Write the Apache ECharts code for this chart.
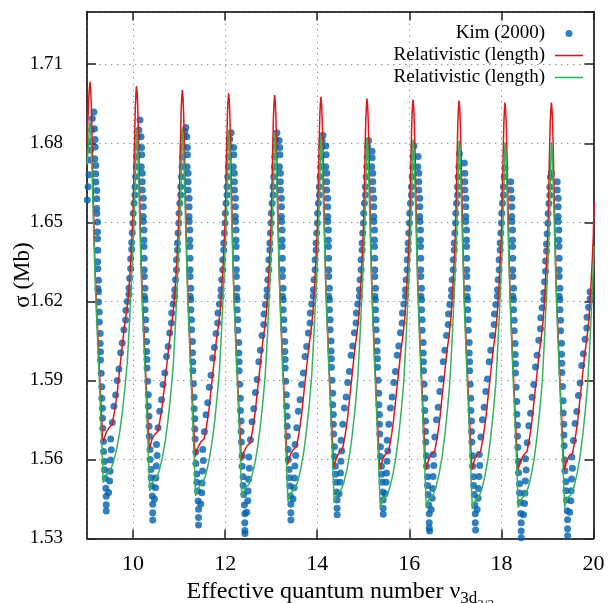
<!DOCTYPE html>
<html><head><meta charset="utf-8">
<script src="https://cdn.jsdelivr.net/npm/echarts@6/dist/echarts.min.js"></script>
<style>html,body{margin:0;padding:0;background:#fff}#c{width:611px;height:603px}</style>
</head><body><div id="c"></div>
<script>
const xMin = 9, xMax = 20;
const yMin = 1.53, yMax = 1.73, yStep = 0.03;
const seriesNames = ['Kim (2000)', 'Relativistic (length)', 'Relativistic (length)\u200b'];

const kim = [
[9.007,1.6585],[9.022,1.6635],[9.043,1.668],[9.065,1.6736],[9.08,1.6774],[9.065,1.6806],[9.10,1.685],[9.115,1.6894],[9.150,1.6919],
[9.163,1.6855],[9.175,1.6814],[9.178,1.6786],[9.169,1.6741],[9.191,1.6716],[9.191,1.6684],[9.192,1.6653],[9.213,1.6621],[9.213,1.6589],[9.212,1.6552],[9.215,1.6533],[9.228,1.6501],[9.228,1.6463],[9.229,1.6438],[9.234,1.6394],[9.234,1.6350],[9.235,1.6324],[9.250,1.6280],[9.237,1.6249],[9.250,1.6236],[9.251,1.6198],[9.265,1.6160],[9.266,1.6122],[9.286,1.6078],[9.287,1.6040],[9.293,1.6009],[9.294,1.5977],[9.308,1.5927],[9.321,1.5876],[9.322,1.5832],[9.336,1.5794],[9.337,1.5756],[9.343,1.5718],[9.358,1.5668],[9.359,1.5630],[9.380,1.5592],[9.381,1.5561],[9.395,1.5529],[9.408,1.5491],[9.417,1.5460],[9.417,1.5428],[9.418,1.5404],
[9.470,1.5475],[9.492,1.5518],[9.500,1.5555],[9.510,1.5598],[9.527,1.5637],[9.514,1.5678],[9.550,1.5740],[9.585,1.5802],[9.622,1.5845],[9.657,1.5900],[9.694,1.5943],[9.731,1.6005],[9.766,1.6042],[9.802,1.6092],[9.839,1.6129],[9.845,1.6166],[9.875,1.6199],[9.911,1.6227],[9.911,1.6251],[9.926,1.6288],[9.948,1.6325],[9.948,1.6362],[9.970,1.6398],[9.970,1.6423],[9.983,1.6460],[9.998,1.6497],[10.004,1.6534],[10.020,1.6572],[10.041,1.6604],[10.041,1.6635],[10.056,1.6673],[10.070,1.6711],[10.078,1.6749],[10.091,1.6787],[10.100,1.6825],[10.128,1.6850],
[10.151,1.6888],[10.173,1.6825],[10.185,1.6784],[10.188,1.6756],[10.179,1.6711],[10.201,1.6686],[10.201,1.6654],[10.202,1.6623],[10.223,1.6591],[10.223,1.6559],[10.222,1.6522],[10.225,1.6503],[10.238,1.6471],[10.238,1.6433],[10.239,1.6408],[10.244,1.6364],[10.244,1.6320],[10.245,1.6294],[10.260,1.6250],[10.247,1.6219],[10.260,1.6206],[10.261,1.6168],[10.275,1.6130],[10.276,1.6092],[10.296,1.6048],[10.297,1.6010],[10.303,1.5979],[10.304,1.5947],[10.318,1.5897],[10.331,1.5846],[10.332,1.5802],[10.346,1.5764],[10.347,1.5726],[10.353,1.5688],[10.368,1.5638],[10.369,1.5600],[10.390,1.5562],[10.391,1.5531],[10.405,1.5499],[10.418,1.5461],[10.427,1.5430],[10.427,1.5398],[10.428,1.5370],
[10.465,1.5450],[10.487,1.5493],[10.495,1.5530],[10.505,1.5575],[10.522,1.5615],[10.509,1.5657],[10.545,1.5720],[10.580,1.5783],[10.617,1.5827],[10.652,1.5884],[10.689,1.5928],[10.726,1.5991],[10.761,1.6029],[10.797,1.6080],[10.834,1.6118],[10.840,1.6156],[10.870,1.6190],[10.906,1.6219],[10.906,1.6244],[10.921,1.6282],[10.943,1.6320],[10.943,1.6358],[10.965,1.6395],[10.965,1.6421],[10.978,1.6459],[10.993,1.6497],[10.999,1.6534],[11.015,1.6572],[11.036,1.6604],[11.036,1.6635],[11.051,1.6673],[11.065,1.6711],[11.073,1.6749],[11.086,1.6787],[11.095,1.6825],[11.123,1.6845],
[11.146,1.6860],[11.168,1.6825],[11.180,1.6784],[11.183,1.6756],[11.174,1.6711],[11.196,1.6686],[11.196,1.6654],[11.197,1.6623],[11.218,1.6591],[11.218,1.6559],[11.217,1.6522],[11.220,1.6503],[11.233,1.6471],[11.233,1.6433],[11.234,1.6408],[11.239,1.6364],[11.239,1.6320],[11.240,1.6294],[11.255,1.6250],[11.242,1.6219],[11.255,1.6206],[11.256,1.6168],[11.270,1.6130],[11.271,1.6092],[11.291,1.6048],[11.292,1.6005],[11.298,1.5970],[11.299,1.5937],[11.313,1.5887],[11.326,1.5836],[11.327,1.5792],[11.341,1.5754],[11.342,1.5716],[11.348,1.5678],[11.363,1.5628],[11.364,1.5585],[11.385,1.5545],[11.386,1.5513],[11.400,1.5480],[11.413,1.5442],[11.422,1.5411],[11.422,1.5380],[11.423,1.5351],
[11.470,1.5431],[11.492,1.5474],[11.500,1.5511],[11.510,1.5556],[11.527,1.5596],[11.514,1.5638],[11.550,1.5705],[11.585,1.5770],[11.622,1.5815],[11.657,1.5874],[11.694,1.5920],[11.731,1.5985],[11.766,1.6025],[11.802,1.6078],[11.839,1.6118],[11.845,1.6156],[11.875,1.6190],[11.911,1.6219],[11.911,1.6244],[11.926,1.6282],[11.948,1.6320],[11.948,1.6358],[11.970,1.6395],[11.970,1.6421],[11.983,1.6459],[11.998,1.6497],[12.004,1.6534],[12.020,1.6572],[12.041,1.6604],[12.041,1.6635],[12.056,1.6673],[12.070,1.6711],[12.078,1.6749],[12.091,1.6787],[12.100,1.6815],
[12.130,1.6840],[12.185,1.6784],[12.188,1.6756],[12.179,1.6711],[12.201,1.6686],[12.201,1.6654],[12.202,1.6623],[12.223,1.6591],[12.223,1.6559],[12.222,1.6522],[12.225,1.6503],[12.238,1.6471],[12.238,1.6433],[12.239,1.6408],[12.244,1.6364],[12.244,1.6320],[12.245,1.6294],[12.260,1.6250],[12.247,1.6219],[12.260,1.6206],[12.261,1.6168],[12.275,1.6130],[12.276,1.6090],[12.296,1.6044],[12.297,1.6004],[12.303,1.5971],[12.304,1.5937],[12.318,1.5885],[12.331,1.5832],[12.332,1.5786],[12.346,1.5746],[12.347,1.5706],[12.353,1.5666],[12.368,1.5614],[12.369,1.5574],[12.390,1.5534],[12.391,1.5501],[12.405,1.5467],[12.418,1.5427],[12.427,1.5394],[12.427,1.5360],[12.428,1.5330],[12.431,1.5319],
[12.470,1.5400],[12.492,1.5443],[12.500,1.5480],[12.510,1.5525],[12.527,1.5567],[12.514,1.5609],[12.550,1.5675],[12.585,1.5743],[12.622,1.5792],[12.657,1.5854],[12.694,1.5903],[12.731,1.5971],[12.766,1.6014],[12.802,1.6070],[12.839,1.6112],[12.845,1.6152],[12.875,1.6188],[12.911,1.6219],[12.911,1.6244],[12.926,1.6282],[12.948,1.6320],[12.948,1.6358],[12.970,1.6395],[12.970,1.6421],[12.983,1.6459],[12.998,1.6497],[13.004,1.6534],[13.020,1.6572],[13.041,1.6604],[13.041,1.6635],[13.056,1.6673],[13.070,1.6711],[13.078,1.6749],[13.091,1.6787],[13.100,1.6815],
[13.125,1.6840],[13.173,1.6810],[13.185,1.6784],[13.188,1.6756],[13.179,1.6711],[13.201,1.6686],[13.201,1.6654],[13.202,1.6623],[13.223,1.6591],[13.223,1.6559],[13.222,1.6522],[13.225,1.6503],[13.238,1.6471],[13.238,1.6433],[13.239,1.6408],[13.244,1.6364],[13.244,1.6320],[13.245,1.6294],[13.260,1.6250],[13.247,1.6219],[13.260,1.6206],[13.261,1.6168],[13.275,1.6130],[13.276,1.6092],[13.296,1.6048],[13.297,1.6010],[13.303,1.5979],[13.304,1.5947],[13.318,1.5897],[13.331,1.5846],[13.332,1.5802],[13.346,1.5764],[13.347,1.5726],[13.353,1.5688],[13.368,1.5638],[13.369,1.5600],[13.390,1.5562],[13.391,1.5531],[13.405,1.5499],[13.418,1.5461],[13.427,1.5430],[13.427,1.5398],[13.428,1.5370],
[13.475,1.5450],[13.497,1.5493],[13.505,1.5530],[13.515,1.5575],[13.532,1.5615],[13.519,1.5657],[13.555,1.5720],[13.590,1.5783],[13.627,1.5827],[13.662,1.5884],[13.699,1.5928],[13.736,1.5991],[13.771,1.6029],[13.807,1.6080],[13.844,1.6118],[13.850,1.6156],[13.880,1.6190],[13.916,1.6219],[13.916,1.6244],[13.931,1.6282],[13.953,1.6320],[13.953,1.6358],[13.975,1.6395],[13.975,1.6421],[13.988,1.6459],[14.003,1.6497],[14.009,1.6534],[14.025,1.6572],[14.046,1.6604],[14.046,1.6635],[14.061,1.6673],[14.075,1.6711],[14.083,1.6749],[14.096,1.6787],[14.105,1.6810],
[14.125,1.6830],[14.185,1.6790],[14.193,1.6756],[14.184,1.6711],[14.206,1.6686],[14.206,1.6654],[14.207,1.6623],[14.228,1.6591],[14.228,1.6559],[14.227,1.6522],[14.230,1.6503],[14.243,1.6471],[14.243,1.6433],[14.244,1.6408],[14.249,1.6364],[14.249,1.6320],[14.250,1.6294],[14.265,1.6250],[14.252,1.6219],[14.265,1.6206],[14.266,1.6168],[14.280,1.6130],[14.281,1.6092],[14.301,1.6050],[14.302,1.6012],[14.308,1.5982],[14.309,1.5950],[14.323,1.5901],[14.336,1.5851],[14.337,1.5808],[14.351,1.5771],[14.352,1.5734],[14.358,1.5697],[14.373,1.5648],[14.374,1.5611],[14.395,1.5574],[14.396,1.5544],[14.410,1.5513],[14.423,1.5476],[14.432,1.5446],[14.432,1.5415],[14.433,1.5390],
[14.475,1.5470],[14.497,1.5513],[14.505,1.5549],[14.515,1.5593],[14.532,1.5632],[14.519,1.5673],[14.555,1.5734],[14.590,1.5795],[14.627,1.5837],[14.662,1.5892],[14.699,1.5934],[14.736,1.5995],[14.771,1.6031],[14.807,1.6081],[14.844,1.6118],[14.850,1.6156],[14.880,1.6190],[14.916,1.6219],[14.916,1.6244],[14.931,1.6282],[14.953,1.6320],[14.953,1.6358],[14.975,1.6395],[14.975,1.6421],[14.988,1.6459],[15.003,1.6497],[15.009,1.6534],[15.025,1.6572],[15.046,1.6604],[15.046,1.6635],[15.061,1.6673],[15.075,1.6711],[15.083,1.6749],[15.096,1.6787],
[15.115,1.6810],[15.190,1.6770],[15.193,1.6745],[15.184,1.6711],[15.206,1.6686],[15.206,1.6654],[15.207,1.6623],[15.228,1.6591],[15.228,1.6559],[15.227,1.6522],[15.230,1.6503],[15.243,1.6471],[15.243,1.6433],[15.244,1.6408],[15.249,1.6364],[15.249,1.6320],[15.250,1.6294],[15.265,1.6250],[15.252,1.6219],[15.265,1.6206],[15.266,1.6168],[15.280,1.6130],[15.281,1.6092],[15.301,1.6050],[15.302,1.6012],[15.308,1.5982],[15.309,1.5950],[15.323,1.5901],[15.336,1.5851],[15.337,1.5808],[15.351,1.5771],[15.352,1.5734],[15.358,1.5697],[15.373,1.5648],[15.374,1.5611],[15.395,1.5574],[15.396,1.5544],[15.410,1.5513],[15.423,1.5476],[15.432,1.5446],[15.432,1.5415],[15.433,1.5392],
[15.475,1.5470],[15.497,1.5513],[15.505,1.5549],[15.515,1.5593],[15.532,1.5632],[15.519,1.5673],[15.555,1.5734],[15.590,1.5795],[15.627,1.5837],[15.662,1.5892],[15.699,1.5934],[15.736,1.5995],[15.771,1.6031],[15.807,1.6081],[15.844,1.6118],[15.850,1.6156],[15.880,1.6190],[15.916,1.6219],[15.916,1.6244],[15.931,1.6282],[15.953,1.6320],[15.953,1.6358],[15.975,1.6395],[15.975,1.6421],[15.988,1.6459],[16.003,1.6497],[16.009,1.6534],[16.025,1.6572],[16.046,1.6604],[16.046,1.6635],[16.061,1.6673],[16.075,1.6711],[16.083,1.6749],
[16.100,1.6790],[16.190,1.6750],[16.184,1.6711],[16.206,1.6686],[16.206,1.6654],[16.207,1.6623],[16.228,1.6591],[16.228,1.6559],[16.227,1.6522],[16.230,1.6503],[16.243,1.6471],[16.243,1.6433],[16.244,1.6408],[16.249,1.6364],[16.249,1.6320],[16.250,1.6294],[16.265,1.6250],[16.252,1.6219],[16.265,1.6206],[16.266,1.6168],[16.280,1.6130],[16.281,1.6090],[16.301,1.6044],[16.302,1.6004],[16.308,1.5971],[16.309,1.5937],[16.323,1.5885],[16.336,1.5832],[16.337,1.5786],[16.351,1.5746],[16.352,1.5706],[16.358,1.5666],[16.373,1.5614],[16.374,1.5574],[16.395,1.5534],[16.396,1.5501],[16.410,1.5467],[16.423,1.5427],[16.432,1.5394],[16.432,1.5360],[16.433,1.5340],[16.440,1.5328],
[16.475,1.5410],[16.497,1.5453],[16.505,1.5490],[16.515,1.5535],[16.532,1.5577],[16.519,1.5619],[16.555,1.5685],[16.590,1.5751],[16.627,1.5798],[16.662,1.5858],[16.699,1.5905],[16.736,1.5971],[16.771,1.6014],[16.807,1.6070],[16.844,1.6112],[16.850,1.6152],[16.880,1.6188],[16.916,1.6219],[16.916,1.6244],[16.931,1.6282],[16.953,1.6320],[16.953,1.6358],[16.975,1.6395],[16.975,1.6421],[16.988,1.6459],[17.003,1.6497],[17.009,1.6534],[17.025,1.6572],[17.046,1.6604],[17.046,1.6635],[17.061,1.6673],[17.075,1.6711],
[17.090,1.6760],[17.195,1.6725],[17.206,1.6686],[17.206,1.6654],[17.207,1.6623],[17.228,1.6591],[17.228,1.6559],[17.227,1.6522],[17.230,1.6503],[17.243,1.6471],[17.243,1.6433],[17.244,1.6408],[17.249,1.6364],[17.249,1.6320],[17.250,1.6294],[17.265,1.6250],[17.252,1.6219],[17.265,1.6206],[17.266,1.6168],[17.280,1.6130],[17.281,1.6090],[17.301,1.6044],[17.302,1.6004],[17.308,1.5971],[17.309,1.5937],[17.323,1.5885],[17.336,1.5832],[17.337,1.5786],[17.351,1.5746],[17.352,1.5706],[17.358,1.5666],[17.373,1.5614],[17.374,1.5574],[17.395,1.5534],[17.396,1.5501],[17.410,1.5467],[17.423,1.5427],[17.432,1.5394],[17.432,1.5360],[17.440,1.5332],
[17.473,1.5410],[17.495,1.5453],[17.503,1.5490],[17.513,1.5535],[17.530,1.5577],[17.517,1.5619],[17.553,1.5685],[17.588,1.5751],[17.625,1.5798],[17.660,1.5858],[17.697,1.5905],[17.734,1.5971],[17.769,1.6014],[17.805,1.6070],[17.842,1.6112],[17.848,1.6152],[17.878,1.6188],[17.914,1.6219],[17.914,1.6244],[17.929,1.6282],[17.951,1.6320],[17.951,1.6358],[17.973,1.6395],[17.973,1.6421],[17.986,1.6459],[18.001,1.6497],[18.007,1.6534],[18.023,1.6572],[18.044,1.6604],[18.044,1.6635],[18.059,1.6673],[18.078,1.6706],
[18.204,1.6654],[18.205,1.6623],[18.226,1.6591],[18.226,1.6559],[18.225,1.6522],[18.228,1.6503],[18.241,1.6471],[18.241,1.6433],[18.242,1.6408],[18.247,1.6364],[18.247,1.6320],[18.248,1.6294],[18.263,1.6250],[18.250,1.6219],[18.263,1.6206],[18.264,1.6168],[18.278,1.6128],[18.279,1.6088],[18.299,1.6040],[18.300,1.5998],[18.306,1.5963],[18.307,1.5928],[18.321,1.5874],[18.334,1.5820],[18.335,1.5772],[18.349,1.5730],[18.350,1.5688],[18.356,1.5646],[18.371,1.5592],[18.372,1.5550],[18.393,1.5508],[18.394,1.5473],[18.408,1.5437],[18.421,1.5395],[18.430,1.5360],[18.430,1.5328],[18.431,1.5303],
[18.480,1.5390],[18.502,1.5433],[18.510,1.5472],[18.520,1.5518],[18.537,1.5560],[18.524,1.5603],[18.560,1.5663],[18.595,1.5728],[18.632,1.5775],[18.667,1.5836],[18.704,1.5884],[18.741,1.5951],[18.776,1.5995],[18.812,1.6052],[18.849,1.6096],[18.855,1.6138],[18.885,1.6176],[18.921,1.6207],[18.921,1.6234],[18.936,1.6274],[18.958,1.6314],[18.958,1.6353],[18.980,1.6391],[18.980,1.6418],[18.993,1.6457],[19.008,1.6496],[19.014,1.6533],[19.030,1.6571],[19.051,1.6603],[19.051,1.6634],[19.066,1.6672],[19.085,1.6687],
[19.211,1.6654],[19.212,1.6623],[19.233,1.6591],[19.233,1.6559],[19.232,1.6522],[19.235,1.6503],[19.248,1.6471],[19.248,1.6433],[19.249,1.6408],[19.254,1.6364],[19.254,1.6320],[19.255,1.6294],[19.270,1.6250],[19.257,1.6219],[19.270,1.6206],[19.271,1.6168],[19.285,1.6128],[19.286,1.6088],[19.306,1.6041],[19.307,1.5999],[19.313,1.5965],[19.314,1.5930],[19.328,1.5877],[19.341,1.5823],[19.342,1.5776],[19.356,1.5734],[19.357,1.5693],[19.363,1.5652],[19.378,1.5598],[19.379,1.5557],[19.400,1.5515],[19.401,1.5481],[19.415,1.5446],[19.428,1.5405],[19.437,1.5371],[19.437,1.5337],[19.438,1.5310],
[19.485,1.5400],[19.507,1.5443],[19.515,1.5481],[19.525,1.5526],[19.542,1.5567],[19.529,1.5609],[19.565,1.5672],[19.600,1.5736],[19.637,1.5782],[19.672,1.5843],[19.709,1.5890],[19.746,1.5957],[19.781,1.6001],[19.817,1.6056],[19.854,1.6099],[19.860,1.6140],[19.890,1.6178],[19.926,1.6210],[19.926,1.6236]
];

const relRed = [
[9.000,1.6800],[9.023,1.6900],[9.040,1.6975],[9.053,1.7012],
[9.065,1.7033],[9.080,1.7006],[9.095,1.6936],[9.110,1.6826],[9.125,1.6696],[9.145,1.6526],[9.170,1.6350],[9.195,1.6230],[9.235,1.6075],[9.275,1.5915],[9.310,1.5785],[9.343,1.5663],
[9.415,1.5701],[9.475,1.5720],[9.545,1.5732],[9.605,1.5789],[9.655,1.5852],[9.700,1.5927],[9.755,1.6013],[9.810,1.6100],[9.860,1.6160],[9.900,1.6220],[9.945,1.6340],[9.975,1.6435],[9.995,1.6510],[10.015,1.6640],[10.033,1.6810],[10.050,1.6940],[10.063,1.6990],
[10.075,1.7017],[10.090,1.6990],[10.105,1.6920],[10.120,1.6810],[10.135,1.6680],[10.155,1.6510],[10.180,1.6330],[10.205,1.6210],[10.245,1.6050],[10.285,1.5890],[10.320,1.5760],[10.353,1.5638],
[10.410,1.5676],[10.470,1.5695],[10.540,1.5707],[10.600,1.5764],[10.650,1.5827],[10.695,1.5900],[10.750,1.5985],[10.805,1.6072],[10.855,1.6135],[10.895,1.6197],[10.940,1.6318],[10.970,1.6417],[10.990,1.6495],[11.010,1.6625],[11.028,1.6795],[11.045,1.6925],[11.058,1.6975],
[11.070,1.7002],[11.085,1.6975],[11.100,1.6905],[11.115,1.6795],[11.130,1.6665],[11.150,1.6495],[11.175,1.6310],[11.200,1.6190],[11.240,1.6022],[11.280,1.5862],[11.315,1.5732],[11.348,1.5610],
[11.415,1.5648],[11.475,1.5667],[11.545,1.5679],[11.605,1.5736],[11.655,1.5799],[11.700,1.5875],[11.755,1.5963],[11.810,1.6052],[11.860,1.6115],[11.900,1.6178],[11.945,1.6302],[11.975,1.6402],[11.995,1.6482],[12.015,1.6612],[12.033,1.6782],[12.050,1.6912],[12.063,1.6962],
[12.075,1.6990],[12.090,1.6963],[12.105,1.6893],[12.120,1.6783],[12.135,1.6653],[12.155,1.6483],[12.180,1.6295],[12.205,1.6175],[12.245,1.6006],[12.285,1.5846],[12.320,1.5716],[12.353,1.5594],
[12.415,1.5632],[12.475,1.5651],[12.545,1.5663],[12.605,1.5720],[12.655,1.5783],[12.700,1.5859],[12.755,1.5947],[12.810,1.6037],[12.860,1.6101],[12.900,1.6166],[12.945,1.6292],[12.975,1.6393],[12.995,1.6474],[13.015,1.6606],[13.033,1.6776],[13.050,1.6906],[13.063,1.6956],
[13.075,1.6983],[13.090,1.6956],[13.105,1.6886],[13.120,1.6776],[13.135,1.6646],[13.155,1.6476],[13.180,1.6285],[13.205,1.6165],[13.245,1.5992],[13.285,1.5832],[13.320,1.5702],[13.353,1.5580],
[13.420,1.5618],[13.480,1.5637],[13.550,1.5649],[13.610,1.5706],[13.660,1.5769],[13.705,1.5845],[13.760,1.5934],[13.815,1.6025],[13.865,1.6090],[13.905,1.6155],[13.950,1.6282],[13.980,1.6384],[14.000,1.6469],[14.020,1.6599],[14.038,1.6769],[14.055,1.6899],[14.068,1.6949],
[14.080,1.6976],[14.095,1.6949],[14.110,1.6879],[14.125,1.6769],[14.140,1.6639],[14.160,1.6469],[14.185,1.6275],[14.210,1.6155],[14.250,1.5982],[14.290,1.5822],[14.325,1.5692],[14.358,1.5570],
[14.420,1.5608],[14.480,1.5627],[14.550,1.5639],[14.610,1.5696],[14.660,1.5759],[14.705,1.5835],[14.760,1.5925],[14.815,1.6016],[14.865,1.6082],[14.905,1.6148],[14.950,1.6277],[14.980,1.6379],[15.000,1.6463],[15.020,1.6593],[15.038,1.6763],[15.055,1.6893],[15.068,1.6943],
[15.080,1.6970],[15.095,1.6943],[15.110,1.6873],[15.125,1.6763],[15.140,1.6633],[15.160,1.6463],[15.185,1.6268],[15.210,1.6148],[15.250,1.5974],[15.290,1.5814],[15.325,1.5684],[15.358,1.5562],
[15.420,1.5600],[15.480,1.5619],[15.550,1.5631],[15.610,1.5688],[15.660,1.5751],[15.705,1.5828],[15.760,1.5918],[15.815,1.6010],[15.865,1.6076],[15.905,1.6143],[15.950,1.6272],[15.980,1.6375],[16.000,1.6459],[16.020,1.6589],[16.038,1.6759],[16.055,1.6889],[16.068,1.6939],
[16.080,1.6966],[16.095,1.6939],[16.110,1.6869],[16.125,1.6759],[16.140,1.6629],[16.160,1.6459],[16.185,1.6266],[16.210,1.6146],[16.250,1.5974],[16.290,1.5814],[16.325,1.5684],[16.358,1.5562],
[16.420,1.5600],[16.480,1.5619],[16.550,1.5631],[16.610,1.5688],[16.660,1.5751],[16.705,1.5827],[16.760,1.5916],[16.815,1.6007],[16.865,1.6073],[16.905,1.6140],[16.950,1.6269],[16.980,1.6372],[17.000,1.6455],[17.020,1.6585],[17.038,1.6755],[17.055,1.6885],[17.068,1.6935],
[17.080,1.6962],[17.095,1.6935],[17.110,1.6865],[17.125,1.6755],[17.140,1.6625],[17.160,1.6455],[17.185,1.6264],[17.210,1.6144],[17.250,1.5974],[17.290,1.5814],[17.325,1.5684],[17.358,1.5562],
[17.418,1.5600],[17.478,1.5619],[17.548,1.5631],[17.608,1.5688],[17.658,1.5751],[17.703,1.5826],[17.758,1.5914],[17.813,1.6005],[17.863,1.6070],[17.903,1.6136],[17.948,1.6265],[17.978,1.6367],[17.998,1.6447],[18.018,1.6577],[18.036,1.6747],[18.053,1.6877],[18.066,1.6927],
[18.078,1.6954],[18.093,1.6927],[18.108,1.6857],[18.123,1.6747],[18.138,1.6617],[18.158,1.6447],[18.183,1.6260],[18.208,1.6140],[18.248,1.5972],[18.288,1.5812],[18.323,1.5682],[18.356,1.5560],
[18.425,1.5598],[18.485,1.5617],[18.555,1.5629],[18.615,1.5686],[18.665,1.5749],[18.710,1.5824],[18.765,1.5913],[18.820,1.6004],[18.870,1.6068],[18.910,1.6135],[18.955,1.6265],[18.985,1.6367],[19.005,1.6447],[19.025,1.6577],[19.043,1.6747],[19.060,1.6877],[19.073,1.6927],
[19.085,1.6954],[19.100,1.6927],[19.115,1.6857],[19.130,1.6747],[19.145,1.6617],[19.165,1.6447],[19.190,1.6258],[19.215,1.6138],[19.255,1.5968],[19.295,1.5808],[19.330,1.5678],[19.363,1.5556],
[19.415,1.5594],[19.475,1.5613],[19.545,1.5625],[19.605,1.5682],[19.655,1.5745],[19.700,1.5821],[19.755,1.5910],[19.810,1.6000],[19.860,1.6065],[19.900,1.6131],[19.945,1.6261],[19.975,1.6364],[19.995,1.6445],[20.015,1.6575]
];

const relGreen = [
[9.000,1.6720],[9.030,1.6790],[9.047,1.6840],[9.058,1.6868],
[9.065,1.6881],[9.080,1.6855],[9.095,1.6785],[9.115,1.6655],[9.140,1.6495],[9.165,1.6347],[9.190,1.6218],[9.235,1.6032],[9.275,1.5872],[9.315,1.5692],[9.354,1.5512],
[9.395,1.5534],[9.445,1.5550],[9.515,1.5562],[9.575,1.5590],[9.645,1.5640],[9.705,1.5698],[9.765,1.5776],[9.825,1.5873],[9.875,1.5970],[9.925,1.6125],[9.975,1.6312],[10.015,1.6468],[10.040,1.6605],[10.057,1.6732],[10.068,1.6820],
[10.075,1.6856],[10.090,1.6830],[10.105,1.6760],[10.125,1.6630],[10.150,1.6470],[10.175,1.6320],[10.200,1.6190],[10.245,1.6000],[10.285,1.5840],[10.325,1.5660],[10.364,1.5480],
[10.390,1.5502],[10.440,1.5518],[10.510,1.5530],[10.570,1.5558],[10.640,1.5610],[10.700,1.5670],[10.760,1.5750],[10.820,1.5850],[10.870,1.5950],[10.920,1.6110],[10.970,1.6300],[11.010,1.6460],[11.035,1.6600],[11.052,1.6730],[11.063,1.6820],
[11.070,1.6856],[11.085,1.6830],[11.100,1.6760],[11.120,1.6630],[11.145,1.6470],[11.170,1.6310],[11.195,1.6180],[11.240,1.5981],[11.280,1.5821],[11.320,1.5641],[11.359,1.5461],
[11.395,1.5483],[11.445,1.5499],[11.515,1.5511],[11.575,1.5539],[11.645,1.5591],[11.705,1.5652],[11.765,1.5733],[11.825,1.5834],[11.875,1.5936],[11.925,1.6098],[11.975,1.6290],[12.015,1.6452],[12.040,1.6594],[12.057,1.6724],[12.068,1.6814],
[12.075,1.6850],[12.090,1.6824],[12.105,1.6754],[12.125,1.6624],[12.150,1.6464],[12.175,1.6306],[12.200,1.6175],[12.245,1.5975],[12.285,1.5815],[12.325,1.5635],[12.364,1.5455],
[12.395,1.5477],[12.445,1.5493],[12.515,1.5505],[12.575,1.5533],[12.645,1.5585],[12.705,1.5646],[12.765,1.5727],[12.825,1.5828],[12.875,1.5929],[12.925,1.6091],[12.975,1.6282],[13.015,1.6443],[13.040,1.6584],[13.057,1.6714],[13.068,1.6804],
[13.075,1.6840],[13.090,1.6814],[13.105,1.6744],[13.125,1.6614],[13.150,1.6454],[13.175,1.6294],[13.200,1.6162],[13.245,1.5960],[13.285,1.5800],[13.325,1.5620],[13.364,1.5440],
[13.400,1.5462],[13.450,1.5478],[13.520,1.5490],[13.580,1.5518],[13.650,1.5570],[13.710,1.5632],[13.770,1.5713],[13.830,1.5815],[13.880,1.5917],[13.930,1.6079],[13.980,1.6271],[14.020,1.6433],[14.045,1.6574],[14.062,1.6704],[14.073,1.6794],
[14.080,1.6830],[14.095,1.6804],[14.110,1.6734],[14.130,1.6604],[14.155,1.6444],[14.180,1.6286],[14.205,1.6155],[14.250,1.5955],[14.290,1.5795],[14.330,1.5615],[14.369,1.5435],
[14.400,1.5457],[14.450,1.5473],[14.520,1.5485],[14.580,1.5513],[14.650,1.5565],[14.710,1.5626],[14.770,1.5707],[14.830,1.5808],[14.880,1.5909],[14.930,1.6071],[14.980,1.6262],[15.020,1.6424],[15.045,1.6564],[15.062,1.6694],[15.073,1.6784],
[15.080,1.6820],[15.095,1.6794],[15.110,1.6724],[15.130,1.6594],[15.155,1.6434],[15.180,1.6271],[15.205,1.6138],[15.250,1.5937],[15.290,1.5777],[15.330,1.5597],[15.369,1.5417],
[15.400,1.5439],[15.450,1.5455],[15.520,1.5467],[15.580,1.5495],[15.650,1.5548],[15.710,1.5610],[15.770,1.5691],[15.830,1.5794],[15.880,1.5896],[15.930,1.6059],[15.980,1.6252],[16.020,1.6419],[16.045,1.6559],[16.062,1.6689],[16.073,1.6779],
[16.080,1.6815],[16.095,1.6789],[16.110,1.6719],[16.130,1.6589],[16.155,1.6429],[16.180,1.6268],[16.205,1.6136],[16.250,1.5937],[16.290,1.5777],[16.330,1.5597],[16.369,1.5417],
[16.400,1.5439],[16.450,1.5455],[16.520,1.5467],[16.580,1.5495],[16.650,1.5548],[16.710,1.5609],[16.770,1.5690],[16.830,1.5792],[16.880,1.5893],[16.930,1.6055],[16.980,1.6248],[17.020,1.6414],[17.045,1.6554],[17.062,1.6684],[17.073,1.6774],
[17.080,1.6810],[17.095,1.6784],[17.110,1.6714],[17.130,1.6584],[17.155,1.6424],[17.180,1.6262],[17.205,1.6130],[17.250,1.5931],[17.290,1.5771],[17.330,1.5591],[17.369,1.5411],
[17.398,1.5433],[17.448,1.5449],[17.518,1.5461],[17.578,1.5489],[17.648,1.5542],[17.708,1.5603],[17.768,1.5684],[17.828,1.5786],[17.878,1.5887],[17.928,1.6049],[17.978,1.6241],[18.018,1.6408],[18.043,1.6548],[18.060,1.6678],[18.071,1.6768],
[18.078,1.6804],[18.093,1.6778],[18.108,1.6708],[18.128,1.6578],[18.153,1.6418],[18.178,1.6264],[18.203,1.6133],[18.248,1.5937],[18.288,1.5777],[18.328,1.5597],[18.367,1.5417],
[18.405,1.5439],[18.455,1.5455],[18.525,1.5467],[18.585,1.5495],[18.655,1.5547],[18.715,1.5608],[18.775,1.5689],[18.835,1.5790],[18.885,1.5891],[18.935,1.6053],[18.985,1.6245],[19.025,1.6408],[19.050,1.6548],[19.067,1.6678],[19.078,1.6768],
[19.085,1.6804],[19.100,1.6778],[19.115,1.6708],[19.135,1.6578],[19.160,1.6418],[19.185,1.6264],[19.210,1.6133],[19.255,1.5937],[19.295,1.5777],[19.335,1.5597],[19.374,1.5417],
[19.395,1.5439],[19.445,1.5455],[19.515,1.5467],[19.575,1.5495],[19.645,1.5547],[19.705,1.5608],[19.765,1.5689],[19.825,1.5790],[19.875,1.5891],[19.925,1.6053],[19.975,1.6245],[20.015,1.6410]
];

const FONT = 'Liberation Serif';
const chart = echarts.init(document.getElementById('c'), null, {renderer: 'canvas'});

const tickStyle = {show: true, inside: true, length: 9, lineStyle: {color: '#222', width: 1.5}};
const lineStyleAxis = {show: true, onZero: false, lineStyle: {color: '#000', width: 1.5}};
const gridDots = {show: true, lineStyle: {color: '#999', width: 1, type: [1.5, 4.5]}};
const lineIcon = 'path://M0,0 L28,0 L28,1.6 L0,1.6 Z';
const dotIcon = 'path://M0,0 M28,7 M17.5,3.5 A3.5,3.5 0 1 1 10.5,3.5 A3.5,3.5 0 1 1 17.5,3.5 Z';

chart.setOption({
  animation: false,
  backgroundColor: '#fff',
  grid: {left: 87, right: 17.5, top: 11.5, bottom: 64.5, containLabel: false, outerBoundsMode: 'none'},
  legend: {
    orient: 'vertical', right: 23, top: 19, align: 'right', padding: 5,
    itemWidth: 28, itemHeight: 7, itemGap: 3, selectedMode: false,
    textStyle: {fontFamily: FONT, fontSize: 19, color: '#000', lineHeight: 16, padding: [0, 5, 0, 0]},
    data: [
      {name: seriesNames[0], icon: dotIcon},
      {name: seriesNames[1], icon: lineIcon},
      {name: seriesNames[2], icon: lineIcon}
    ]
  },
  xAxis: [
    {type: 'value', min: xMin, max: xMax, splitNumber: 5, position: 'bottom',
     axisLine: lineStyleAxis, axisTick: tickStyle, splitLine: gridDots,
     axisLabel: {showMinLabel: false, margin: 15, fontFamily: FONT, fontSize: 22, color: '#000'},
     name: '{a|Effective quantum number ν}{b|3d}{c|3/2}',
     nameLocation: 'middle', nameGap: 41, nameMoveOverlap: false,
     nameTextStyle: {rich: {
       a: {fontFamily: FONT, fontSize: 24, color: '#000', lineHeight: 26, verticalAlign: 'top'},
       b: {fontFamily: FONT, fontSize: 17, color: '#000', lineHeight: 17, padding: [10.5, 0, 0, 0], verticalAlign: 'top'},
       c: {fontFamily: FONT, fontSize: 13, color: '#000', lineHeight: 13, padding: [18.5, 0, 0, 0], verticalAlign: 'top'}
     }}},
    {type: 'value', min: xMin, max: xMax, splitNumber: 5, position: 'top',
     axisLine: lineStyleAxis, axisTick: tickStyle, splitLine: {show: false}, axisLabel: {show: false}}
  ],
  yAxis: [
    {type: 'value', min: yMin, max: yMax, interval: yStep, position: 'left',
     axisLine: lineStyleAxis, axisTick: tickStyle, splitLine: gridDots,
     axisLabel: {showMaxLabel: false, margin: 24, fontFamily: FONT, fontSize: 19, color: '#000'},
     name: 'σ (Mb)', nameLocation: 'middle', nameGap: 53, nameRotate: 90, nameMoveOverlap: false,
     nameTextStyle: {fontFamily: FONT, fontSize: 23, color: '#000'}},
    {type: 'value', min: yMin, max: yMax, interval: yStep, position: 'right',
     axisLine: lineStyleAxis, axisTick: tickStyle, splitLine: {show: false}, axisLabel: {show: false}}
  ],
  series: [
    {name: seriesNames[0], type: 'scatter', data: kim, symbol: 'circle', symbolSize: 7,
     itemStyle: {color: '#0060ad'}, clip: true, z: 2},
    {name: seriesNames[1], type: 'line', data: relRed, showSymbol: false, symbol: 'none',
     lineStyle: {color: '#e0161d', width: 1.5}, itemStyle: {color: '#e0161d'}, clip: true, z: 3},
    {name: seriesNames[2], type: 'line', data: relGreen, showSymbol: false, symbol: 'none',
     lineStyle: {color: '#35b35a', width: 1.5}, itemStyle: {color: '#35b35a'}, clip: true, z: 4}
  ]
});
</script>
</body></html>
